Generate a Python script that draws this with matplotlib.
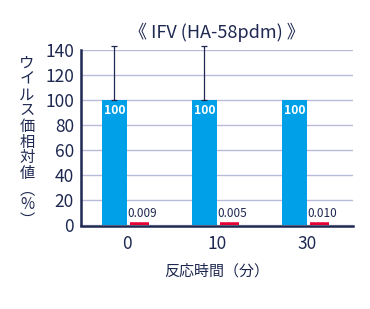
import matplotlib
matplotlib.use("Agg")
import matplotlib.pyplot as plt
import numpy as np

plt.rcParams['font.family'] = ['Noto Sans CJK JP', 'DejaVu Sans']

categories = ["0", "10", "30"]
control_values = [100, 100, 100]
control_err_upper = [43, 43, 0]
treated_values = [0.009, 0.005, 0.010]
treated_labels = ["0.009", "0.005", "0.010"]
control_labels = ["100", "100", "100"]
yticks = [0, 20, 40, 60, 80, 100, 120, 140]

title = "《 IFV (HA-58pdm) 》"
xlabel = "反応時間（分）"
ylabel = "ウ\nイ\nル\nス\n価\n相\n対\n値\n︵\n%\n︶"

BLUE = "#00A0E9"
RED = "#E60033"
NAVY = "#1E2851"
GRID = "#B8BCD8"

fig = plt.figure(figsize=(3.70, 3.09), dpi=100)
ax = fig.add_axes([81/370, 1-225/309, (353-81)/370, 175/309])

x = np.arange(len(categories))
w = 0.278
red_lw = 4.0  # points
shrink = red_lw * 100/72 / 90.0  # edge width in data units

ax.bar(x - w/2, control_values, width=w, color=BLUE, zorder=3)
ax.bar(x + w/2, treated_values, width=w - shrink, color=RED, edgecolor=RED,
       linewidth=red_lw, zorder=3)

err = np.array(control_err_upper, dtype=float)
mask = err > 0
ax.errorbar((x - w/2)[mask], np.array(control_values)[mask],
            yerr=[np.zeros(mask.sum()), err[mask]], fmt='none',
            ecolor=NAVY, elinewidth=0.9, capsize=2.5, capthick=0.9,
            zorder=4, clip_on=False)

for xi, v, lab in zip(x - w/2, control_values, control_labels):
    ax.annotate(lab, (xi, v), xytext=(0, -3), textcoords='offset points',
                ha='center', va='top', color='white', fontsize=8.8,
                fontweight='bold', zorder=5)
for xi, v, lab in zip(x + w/2, treated_values, treated_labels):
    ax.annotate(lab, (xi - w/2, v), xytext=(0, 3.5), textcoords='offset points',
                ha='left', va='bottom', color=NAVY, fontsize=8.5, zorder=5)

ax.set_xlim(-0.511, 2.511)
ax.set_ylim(0, 140)
ax.set_yticks(yticks)
ax.set_xticks(x)
ax.set_xticklabels(categories)
ax.tick_params(axis='both', length=0, colors=NAVY, labelsize=12.5)
ax.tick_params(axis='y', pad=5)
ax.tick_params(axis='x', pad=6)
ax.yaxis.grid(True, color=GRID, linewidth=1.0, zorder=0)
ax.set_axisbelow(True)

for s in ['top', 'right']:
    ax.spines[s].set_visible(False)
for s in ['left', 'bottom']:
    ax.spines[s].set_color(NAVY)
    ax.spines[s].set_linewidth(1.8)
    ax.spines[s].set_zorder(6)
ax.spines['bottom'].set_position(('outward', 1.0))

ax.set_title(title, color=NAVY, fontsize=13, pad=9)
ax.set_xlabel(xlabel, color=NAVY, fontsize=10.8, labelpad=8)
fig.text(27/370, 1-142/309, ylabel, color=NAVY, fontsize=11,
         ha='center', va='center', linespacing=0.90)

fig.savefig("out.png", dpi=100, facecolor='white')
